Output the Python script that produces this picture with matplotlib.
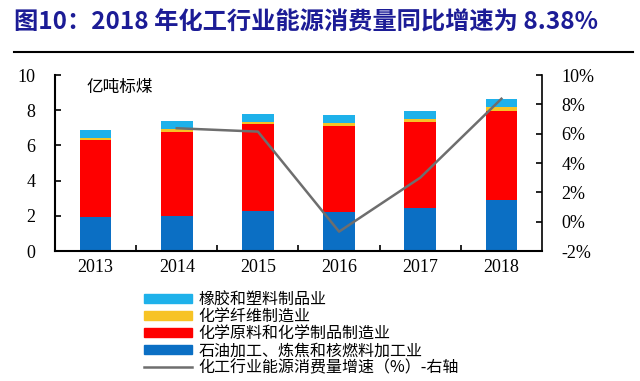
import numpy as np
import matplotlib
matplotlib.use("Agg")
import matplotlib.pyplot as plt
from matplotlib.patches import Patch
from matplotlib.lines import Line2D

plt.rcParams['font.family'] = ['Noto Sans CJK SC', 'DejaVu Sans']

# data
years = ['2013', '2014', '2015', '2016', '2017', '2018']
petro = [1.93, 2.00, 2.28, 2.24, 2.45, 2.88]      # 石油加工、炼焦和核燃料加工业
chem = [4.36, 4.78, 4.93, 4.87, 4.89, 5.09]       # 化学原料和化学制品制造业
fiber = [0.14, 0.15, 0.14, 0.16, 0.16, 0.20]      # 化学纤维制造业
rubber = [0.46, 0.45, 0.46, 0.47, 0.47, 0.49]     # 橡胶和塑料制品业
growth_years = ['2014', '2015', '2016', '2017', '2018']
growth = [6.37, 6.14, -0.68, 3.0, 8.38]           # 增速 %

labels = ['橡胶和塑料制品业', '化学纤维制造业', '化学原料和化学制品制造业',
          '石油加工、炼焦和核燃料加工业', '化工行业能源消费量增速（%）-右轴']
colors = ['#1eb1ea', '#f7c325', '#fe0000', '#0b6fc4']
line_col = '#6e6e6e'

serif = 'Liberation Serif'

fig = plt.figure(figsize=(6.4, 3.81), dpi=100)
ax = fig.add_axes([55/640, 1-251/381, (542-55)/640, (251-75)/381])

x = np.arange(len(years))
w = 0.39
b1 = np.array(petro)
b2 = b1 + np.array(chem)
b3 = b2 + np.array(fiber)
ax.bar(x, petro, w, color=colors[3], zorder=2)
ax.bar(x, chem, w, bottom=b1, color=colors[2], zorder=2)
ax.bar(x, fiber, w, bottom=b2, color=colors[1], zorder=2)
ax.bar(x, rubber, w, bottom=b3, color=colors[0], zorder=2)

ax.set_xlim(-0.5, 5.5)
ax.set_ylim(0, 10)
ax.set_yticks(np.arange(0, 11, 2))
ax.set_yticklabels([str(v) for v in range(0, 11, 2)], fontfamily=serif, fontsize=13)
ax.set_xticks(x)
ax.set_xticklabels(years, fontfamily=serif, fontsize=13)
ax.set_xticks(np.arange(0.5, 5.5, 1), minor=True)
ax.tick_params(axis='x', which='major', length=0, pad=6)
ax.tick_params(axis='x', which='minor', direction='in', length=4, width=1.2)
ax.tick_params(axis='y', direction='in', length=4, width=1.2, pad=14)
for s in ['top', 'right']:
    ax.spines[s].set_visible(False)
ax.spines['left'].set_linewidth(1.5)
ax.spines['bottom'].set_linewidth(1.5)
ax.text(0.065, 0.93, '亿吨标煤', transform=ax.transAxes, fontsize=12, va='center', ha='left')

ax2 = ax.twinx()
gx = [years.index(y) for y in growth_years]
ax2.plot(gx, growth, color=line_col, lw=1.8, zorder=3)
ax2.set_ylim(-2, 10)
ax2.set_yticks(np.arange(-2, 11, 2))
ax2.set_yticklabels(['%d%%' % v for v in range(-2, 11, 2)], fontfamily=serif, fontsize=13)
ax2.tick_params(axis='y', direction='in', length=4, width=1.2, pad=14)
for s in ['top', 'left', 'bottom']:
    ax2.spines[s].set_visible(False)
ax2.spines['right'].set_linewidth(1.2)

# title
fig.text(14/640, 1-23/381, '图10：2018 年化工行业能源消费量同比增速为 8.38%',
         color='#1c1c96', fontsize=17.5, fontweight='bold', va='center', ha='left')
fig.add_artist(Line2D([14/640, 633/640], [1-52/381, 1-52/381], color='black', lw=1.5))

handles = [Patch(color=c) for c in colors] + [Line2D([0], [0], color=line_col, lw=1.8)]
fig.legend(handles, labels, loc='upper left', bbox_to_anchor=(138/640, 1-285/381),
           frameon=False, fontsize=11.5, handlelength=3.0, handleheight=0.5,
           labelspacing=0.0, handletextpad=0.4, borderaxespad=0)

fig.savefig('out.png', dpi=100)
